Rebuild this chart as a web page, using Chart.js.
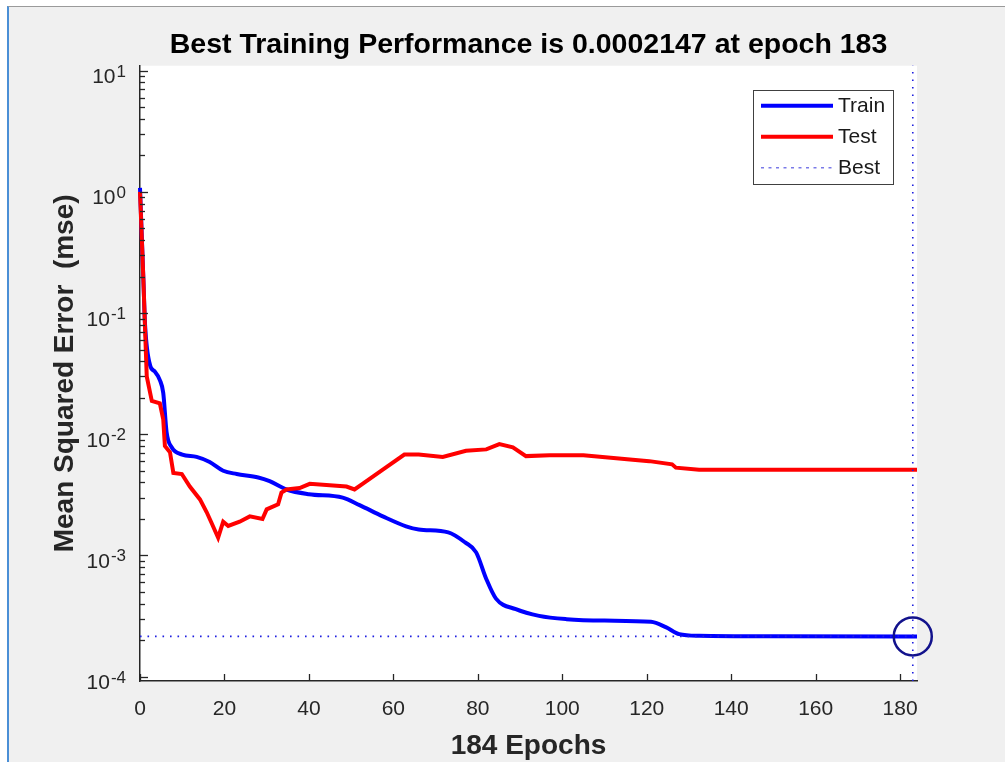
<!DOCTYPE html>
<html>
<head>
<meta charset="utf-8">
<script src="https://cdn.jsdelivr.net/npm/chart.js"></script>
<style>
  html, body { margin: 0; padding: 0; background: #fff; }
  #frame {
    position: absolute; left: 7px; top: 6px; width: 998px; height: 756px;
    background: #f0f0f0; border-top: 1px solid #9a9a9a; border-left: 2px solid #4a8fd6;
  }
  #perfChart { position: absolute; left: 0; top: 0; }
</style>
</head>
<body>
<div id="frame"></div>
<canvas id="perfChart" width="1005" height="762"></canvas>
<script>
// ===== Data =====
const trainEpochs = [0, 0.8, 1.2, 2.4, 3.5, 4.7, 5.5, 6.3, 7.5, 10, 13.4, 16.5, 19.7, 22.9, 28, 30.7, 34.7, 40, 48, 52, 57.5, 63, 66, 73, 77, 79.6, 82, 84.3, 89, 94.5, 101, 110, 121, 124.5, 127.7, 132.4, 150, 183, 184];
const trainMse = [1.08, 0.19, 0.08, 0.037, 0.033, 0.028, 0.022, 0.0104, 0.0078, 0.0068, 0.0065, 0.0059, 0.005, 0.0047, 0.0044, 0.0041, 0.0035, 0.0032, 0.003, 0.0026, 0.0021, 0.00174, 0.00164, 0.00155, 0.00128, 0.00106, 0.00064, 0.00044, 0.00036, 0.000317, 0.000298, 0.00029, 0.000283, 0.000256, 0.000224, 0.000217, 0.000215, 0.0002147, 0.0002147];

const testEpochs = [0, 0.8, 1.2, 1.6, 2.8, 4.7, 5.5, 5.9, 7.1, 7.9, 9.9, 11.8, 14.2, 15.8, 16.9, 18.5, 19.7, 20.9, 23.6, 26, 29, 30, 32.7, 33.5, 34.7, 37.8, 40.2, 48.9, 50.8, 52.7, 57.5, 62.6, 66, 71.7, 77.2, 82, 85.1, 88.3, 91.4, 97, 105, 116, 120.6, 126, 126.9, 132.4, 184];
const testMse = [1.0, 0.19, 0.073, 0.03, 0.0188, 0.018, 0.0133, 0.008, 0.0071, 0.0048, 0.0047, 0.0037, 0.0029, 0.00227, 0.00187, 0.0014, 0.0019, 0.00175, 0.0019, 0.0021, 0.002, 0.0024, 0.00264, 0.0033, 0.0035, 0.0036, 0.0039, 0.0037, 0.0035, 0.0039, 0.0051, 0.0068, 0.0068, 0.0065, 0.0073, 0.0075, 0.0083, 0.0078, 0.0066, 0.0067, 0.0067, 0.0062, 0.006, 0.00565, 0.0053, 0.0051, 0.0051];

const bestEpoch = 183;
const bestMse = 0.0002147;

const xTicks = [0, 20, 40, 60, 80, 100, 120, 140, 160, 180];
const yExponents = [-4, -3, -2, -1, 0, 1];
const xMax = 184;
const yMin = 9.2e-5;
const yMax = 11;

const FONT = '"Liberation Sans", Arial, Helvetica, sans-serif';
const AXIS_GRAY = '#262626';

const toPoints = (xs, ys) => xs.map((x, i) => ({ x: x, y: ys[i] }));

// ===== Plot background (white axes box) =====
const plotBackground = {
  id: 'plotBackground',
  beforeDraw(chart) {
    const { ctx, chartArea: a } = chart;
    ctx.save();
    ctx.fillStyle = '#ffffff';
    ctx.fillRect(a.left, a.top, a.right - a.left, a.bottom - a.top);
    ctx.restore();
  }
};

// ===== Inward tick marks, 10^n labels, legend box =====
const matlabAxes = {
  id: 'matlabAxes',
  afterDraw(chart) {
    const { ctx, chartArea: a } = chart;
    const xs = chart.scales.x;
    const ys = chart.scales.y;
    ctx.save();
    ctx.strokeStyle = AXIS_GRAY;
    ctx.lineWidth = 1.3;

    // x ticks (pointing up into the plot)
    xTicks.forEach(v => {
      const px = Math.round(xs.getPixelForValue(v)) + 0.5;
      ctx.beginPath();
      ctx.moveTo(px, a.bottom);
      ctx.lineTo(px, a.bottom - 7);
      ctx.stroke();
    });

    // y ticks, major and minor
    for (let p = -5; p <= 1; p++) {
      for (let k = 1; k <= 9; k++) {
        const v = k * Math.pow(10, p);
        if (v < yMin || v > yMax) continue;
        const py = Math.round(ys.getPixelForValue(v)) + 0.5;
        ctx.beginPath();
        ctx.moveTo(a.left, py);
        ctx.lineTo(a.left + (k === 1 ? 8 : 5), py);
        ctx.stroke();
      }
    }

    // y labels as 10 with a raised exponent
    const baseFont = '21px ' + FONT;
    const expFont = '17px ' + FONT;
    ctx.fillStyle = AXIS_GRAY;
    ctx.textAlign = 'left';
    ctx.textBaseline = 'alphabetic';
    yExponents.forEach(p => {
      const py = ys.getPixelForValue(Math.pow(10, p));
      const exp = String(p);
      ctx.font = baseFont;
      const wBase = ctx.measureText('10').width;
      ctx.font = expFont;
      const wExp = ctx.measureText(exp).width;
      const x0 = 126 - wExp - 1 - wBase;
      ctx.font = baseFont;
      ctx.fillText('10', x0, py + 12.5);
      ctx.font = expFont;
      ctx.fillText(exp, x0 + wBase + 1, py + 6);
    });

    // legend
    const box = { left: 753.5, top: 90.5, width: 140, height: 94 };
    ctx.fillStyle = '#ffffff';
    ctx.fillRect(box.left, box.top, box.width, box.height);
    ctx.strokeStyle = '#404040';
    ctx.lineWidth = 1;
    ctx.strokeRect(box.left, box.top, box.width, box.height);

    const items = chart.data.datasets.filter(d => d.inLegend);
    items.forEach((d, i) => {
      const cy = 105.7 + i * 31;
      ctx.save();
      ctx.strokeStyle = d.legendColor || d.borderColor;
      ctx.lineWidth = d.borderWidth;
      ctx.setLineDash(d.legendDash || []);
      ctx.beginPath();
      ctx.moveTo(761, cy);
      ctx.lineTo(833, cy);
      ctx.stroke();
      ctx.restore();
      ctx.fillStyle = '#1a1a1a';
      ctx.font = '21px ' + FONT;
      ctx.textBaseline = 'middle';
      ctx.fillText(d.label, 838, cy + 1);
    });
    ctx.restore();
  }
};

const perfChart = new Chart(document.getElementById('perfChart').getContext('2d'), {
  type: 'line',
  data: {
    datasets: [
      {
        label: 'Train',
        inLegend: true,
        data: toPoints(trainEpochs, trainMse),
        borderColor: '#0000ff',
        borderWidth: 4,
        pointRadius: 0,
        cubicInterpolationMode: 'monotone',
        order: 3
      },
      {
        label: 'Test',
        inLegend: true,
        data: toPoints(testEpochs, testMse),
        borderColor: '#ff0000',
        borderWidth: 4,
        pointRadius: 0,
        tension: 0,
        order: 2
      },
      {
        label: 'Best',
        inLegend: true,
        data: [{ x: 0, y: bestMse }, { x: xMax, y: bestMse }],
        borderColor: '#1f1fe0',
        legendColor: '#7a7ae8',
        legendDash: [3, 4.5],
        borderWidth: 1.6,
        borderDash: [1.6, 5.9],
        pointRadius: 0,
        order: 1
      },
      {
        label: 'Best epoch',
        data: [{ x: bestEpoch, y: yMin }, { x: bestEpoch, y: yMax }],
        borderColor: '#1f1fe0',
        borderWidth: 1.6,
        borderDash: [1.6, 5.9],
        pointRadius: 0,
        order: 1
      },
      {
        label: 'Best point',
        data: [{ x: bestEpoch, y: bestMse }],
        showLine: false,
        pointRadius: 19,
        pointBorderWidth: 2.5,
        pointBorderColor: '#12128c',
        pointBackgroundColor: 'rgba(0,0,0,0)',
        order: 0
      }
    ]
  },
  options: {
    responsive: false,
    animation: false,
    clip: false,
    layout: { padding: { left: 48, right: 88, top: 0, bottom: 0 } },
    plugins: {
      legend: { display: false },
      tooltip: { enabled: false },
      title: {
        display: true,
        fullSize: false,
        text: 'Best Training Performance is ' + bestMse + ' at epoch ' + bestEpoch,
        color: '#000',
        font: { family: FONT, size: 28.5, weight: 'bold' },
        padding: { top: 28.5, bottom: 3 }
      }
    },
    scales: {
      x: {
        type: 'linear',
        min: 0,
        max: xMax,
        afterBuildTicks: s => { s.ticks = xTicks.map(v => ({ value: v })); },
        afterFit: s => { s.height = 81; },
        grid: { display: false, drawTicks: false },
        border: { display: true, color: AXIS_GRAY, width: 1.5 },
        ticks: {
          color: AXIS_GRAY,
          font: { family: FONT, size: 21 },
          padding: 16,
          maxRotation: 0
        },
        title: {
          display: true,
          text: (trainEpochs[trainEpochs.length - 1]) + ' Epochs',
          color: AXIS_GRAY,
          font: { family: FONT, size: 28, weight: 'bold', lineHeight: 1.1 },
          padding: { top: 0, bottom: 0 }
        }
      },
      y: {
        type: 'logarithmic',
        min: yMin,
        max: yMax,
        afterFit: s => { s.width = 92; },
        grid: { display: false, drawTicks: false },
        border: { display: true, color: AXIS_GRAY, width: 1.5 },
        ticks: { display: false },
        title: {
          display: true,
          text: 'Mean Squared Error  (mse)',
          color: AXIS_GRAY,
          font: { family: FONT, size: 28, weight: 'bold' },
          padding: { top: 0, bottom: 0 }
        }
      }
    }
  },
  plugins: [plotBackground, matlabAxes]
});
</script>
</body>
</html>
